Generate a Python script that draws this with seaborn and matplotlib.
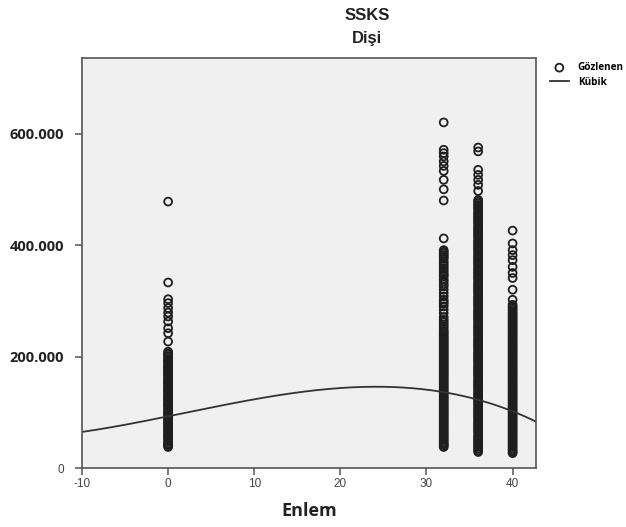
import numpy as np
import pandas as pd
import matplotlib
matplotlib.use("Agg")
import matplotlib.pyplot as plt
import seaborn as sns

enlem_0 = [478, 333, 303, 296, 287, 279, 272, 263, 251, 242, 227,
           209, 206, 204, 201, 198, 195, 193, 190, 187, 184, 181, 179, 176, 173,
           170, 168, 165, 162, 159, 156, 154, 151, 148, 145, 142, 140, 137, 134,
           131, 128, 126, 123, 120, 117, 114, 112, 109, 106, 103, 100, 98, 95,
           92, 89, 86, 84, 81, 78, 75, 72, 70, 67, 64, 61, 58, 56, 53, 50, 47,
           44, 42, 40, 38]
enlem_32 = [620, 571, 565, 559, 550, 542, 533, 517, 500, 480, 412,
            391, 388, 385, 382, 379, 376, 371, 367, 363, 359, 355, 351, 347, 344,
            339, 335, 330, 326, 320, 314, 308, 302, 298, 295, 290, 284, 278, 271,
            266, 262, 258, 254, 250, 246, 243, 240, 237, 234, 231, 228, 225, 222,
            219, 216, 213, 210, 207, 204, 201, 198, 195, 192, 189, 186, 183, 180,
            177, 174, 171, 168, 165, 162, 159, 156, 153, 150, 147, 144, 141, 138,
            135, 132, 129, 126, 123, 120, 117, 114, 111, 108, 105, 102, 99, 96,
            93, 90, 87, 84, 81, 78, 75, 72, 69, 66, 63, 60, 57, 54, 51, 48, 45,
            43, 40, 38]
enlem_36 = [575, 568, 535, 526, 517, 508, 497,
            481, 478, 475, 472, 469, 466, 463, 459, 456, 453, 450, 447, 444, 441,
            438, 434, 431, 428, 425, 422, 419, 416, 413, 409, 406, 403, 400, 397,
            394, 391, 388, 384, 381, 378, 375, 372, 369, 366, 363, 359, 356, 353,
            350, 347, 344, 341, 338, 334, 331, 328, 325, 322, 319, 316, 313, 309,
            306, 303, 300, 297, 294, 291, 288, 284, 281, 278, 275, 272, 269, 266,
            263, 259, 256, 253, 250, 247, 244, 241, 238, 234, 231, 228, 225, 222,
            219, 216, 213, 209, 206, 203, 200, 197, 194, 191, 188, 184, 181, 178,
            175, 172, 169, 166, 163, 159, 156, 153, 150, 147, 144, 141, 138, 134,
            131, 128, 125, 122, 119, 116, 113, 109, 106, 103, 100, 97, 94, 91, 88,
            84, 81, 78, 75, 72, 69, 66, 63, 59, 56, 53, 50, 47, 44, 41, 38, 35,
            32, 29]
enlem_40 = [426, 403, 391, 382, 373, 361, 350, 341, 320, 302,
            293, 290, 287, 284, 281, 278, 275, 272, 269, 266, 263, 260, 257, 254,
            251, 248, 245, 242, 239, 236, 233, 230, 227, 224, 221, 218, 215, 212,
            209, 206, 203, 200, 197, 194, 191, 188, 185, 182, 179, 176, 173, 170,
            167, 164, 161, 158, 155, 152, 149, 146, 143, 140, 137, 134, 131, 128,
            125, 122, 119, 116, 113, 110, 107, 104, 101, 98, 95, 92, 89, 86, 83,
            80, 77, 74, 71, 68, 65, 62, 59, 56, 53, 50, 47, 44, 41, 38, 35, 32,
            29, 27]

# cubic model coefficients b0..b3 (estimated from the drawn curve)
cubic_coef = [93.0, 3.139, 0.01257, -0.002136]

xtick_vals = [-10, 0, 10, 20, 30, 40]
ytick_vals = [0, 200, 400, 600]
ytick_labels = ["0", "200.000", "400.000", "600.000"]

groups = {0: enlem_0, 32: enlem_32, 36: enlem_36, 40: enlem_40}
obs = pd.DataFrame([(k, v) for k, vals in groups.items() for v in vals],
                   columns=["enlem", "ssks"])

x_fit = np.linspace(-10, 42.7, 300)
fit = pd.DataFrame({"enlem": x_fit,
                    "ssks": np.polyval(cubic_coef[::-1], x_fit)})

fig = plt.figure(figsize=(6.26, 5.27), dpi=100)
ax = fig.add_axes([0.131, 0.1116, 0.725, 0.7778])
ax.set_facecolor("#f0f0f0")

sns.scatterplot(data=obs, x="enlem", y="ssks", ax=ax, marker="o", s=32,
                facecolors="none", edgecolor="#1e1e1e", linewidth=1.3,
                label="Gözlenen")
sns.lineplot(data=fit, x="enlem", y="ssks", ax=ax, color="#333333",
             linewidth=1.3, label="Kübik")

ax.set_xlim(-10, 42.7)
ax.set_ylim(0, 735)
ax.set_xticks(xtick_vals)
ax.set_xticklabels([str(v) for v in xtick_vals], fontsize=8.5,
                   family="Liberation Sans", color="#444444")
ax.set_yticks(ytick_vals)
ax.set_yticklabels(ytick_labels, fontsize=10.5, family="Open Sans",
                   fontweight="bold", color="#222222")
ylabs = ax.get_yticklabels()
ylabs[0].set_fontweight("normal")
ylabs[0].set_family("Liberation Sans")
ylabs[0].set_fontsize(8.5)
ylabs[0].set_color("#444444")
ax.tick_params(axis="both", direction="out", length=5, width=1.1,
               color="#555555", pad=2)
ax.tick_params(axis="y", pad=8)
for sp in ax.spines.values():
    sp.set_color("#555555")
    sp.set_linewidth(1.2)

ax.set_xlabel("Enlem", fontsize=13, fontweight="bold", family="Open Sans",
              color="#222222", labelpad=9)
ax.set_ylabel("")

fig.text(0.586, 0.971, "SSKS", ha="center", va="center", fontsize=12,
         fontweight="bold", family="Liberation Sans", color="#222222")
fig.text(0.586, 0.926, "Dişi", ha="center", va="center", fontsize=12,
         fontweight="bold", family="Liberation Sans", color="#222222")

ax.legend(loc="upper left", bbox_to_anchor=(1.022, 1.0), frameon=False,
          prop={"family": "Open Sans", "weight": "bold", "size": 7.2},
          handlelength=1.9, handletextpad=0.9, labelspacing=0.35,
          borderaxespad=0)

fig.savefig("out.png", dpi=100, facecolor="white")
